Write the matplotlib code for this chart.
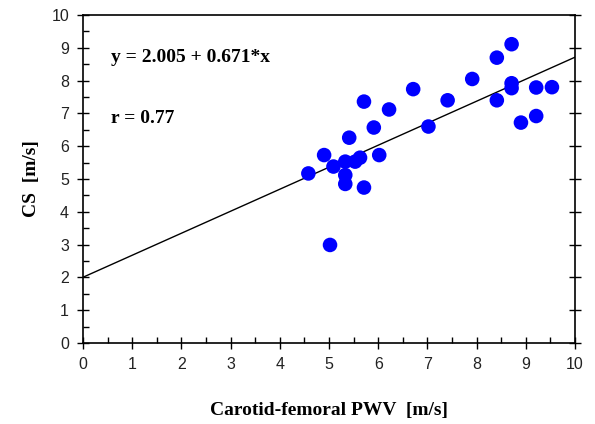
import matplotlib
matplotlib.use("Agg")
import matplotlib.pyplot as plt
import numpy as np

# values
pwv = [8.71, 8.41, 7.91, 6.71, 7.41, 5.71, 6.22, 8.71, 8.71, 9.21, 9.53, 8.41,
       8.90, 9.21, 7.02, 5.91, 5.41, 4.90, 6.02, 4.58, 5.09, 5.33, 5.53, 5.63,
       5.33, 5.33, 5.71, 5.02]
cs = [9.11, 8.70, 8.05, 7.74, 7.40, 7.36, 7.12, 7.92, 7.77, 7.79, 7.80, 7.40,
      6.72, 6.92, 6.60, 6.57, 6.26, 5.73, 5.73, 5.17, 5.38, 5.53, 5.53, 5.65,
      5.12, 4.85, 4.74, 2.99]
intercept = 2.005
slope = 0.671
r_value = 0.77

fig = plt.figure(figsize=(5.95, 4.24), dpi=100)
ax = fig.add_axes([0.1395, 0.191, 0.827, 0.7736])

xl = np.array([0, 10])
ax.plot(xl, intercept + slope * xl, color="black", lw=1, zorder=1)
ax.scatter(pwv, cs, s=110, color="#0000ff", edgecolors="none", zorder=2)

ax.set_xlim(0, 10)
ax.set_ylim(0, 10)
ax.set_xticks(range(0, 11))
ax.set_yticks(range(0, 11))
ax.set_xticks(np.arange(0.5, 10, 1), minor=True)
ax.set_yticks(np.arange(0.5, 10, 1), minor=True)
ax.tick_params(which="major", direction="inout", length=8, width=1,
               right=True, top=False, labelsize=11.5, pad=6)
ax.tick_params(which="minor", direction="in", length=4, width=1,
               right=False, top=False)
for lab in ax.get_xticklabels() + ax.get_yticklabels():
    lab.set_family("Liberation Sans")
    lab.set_color("#222222")
for s in ax.spines.values():
    s.set_linewidth(1.2)

ax.set_xlabel("Carotid-femoral PWV  [m/s]", family="Liberation Serif",
              fontweight="bold", fontsize=14, labelpad=22)
ax.set_ylabel("CS  [m/s]", family="Liberation Serif",
              fontweight="bold", fontsize=14, labelpad=8)

ax.text(0.57, 8.69, "y = %.3f + %.3f*x" % (intercept, slope),
        family="Liberation Serif", fontweight="bold", fontsize=14, va="center")
ax.text(0.57, 6.86, "r = %.2f" % r_value,
        family="Liberation Serif", fontweight="bold", fontsize=14, va="center")

fig.savefig("out.png", dpi=100)
